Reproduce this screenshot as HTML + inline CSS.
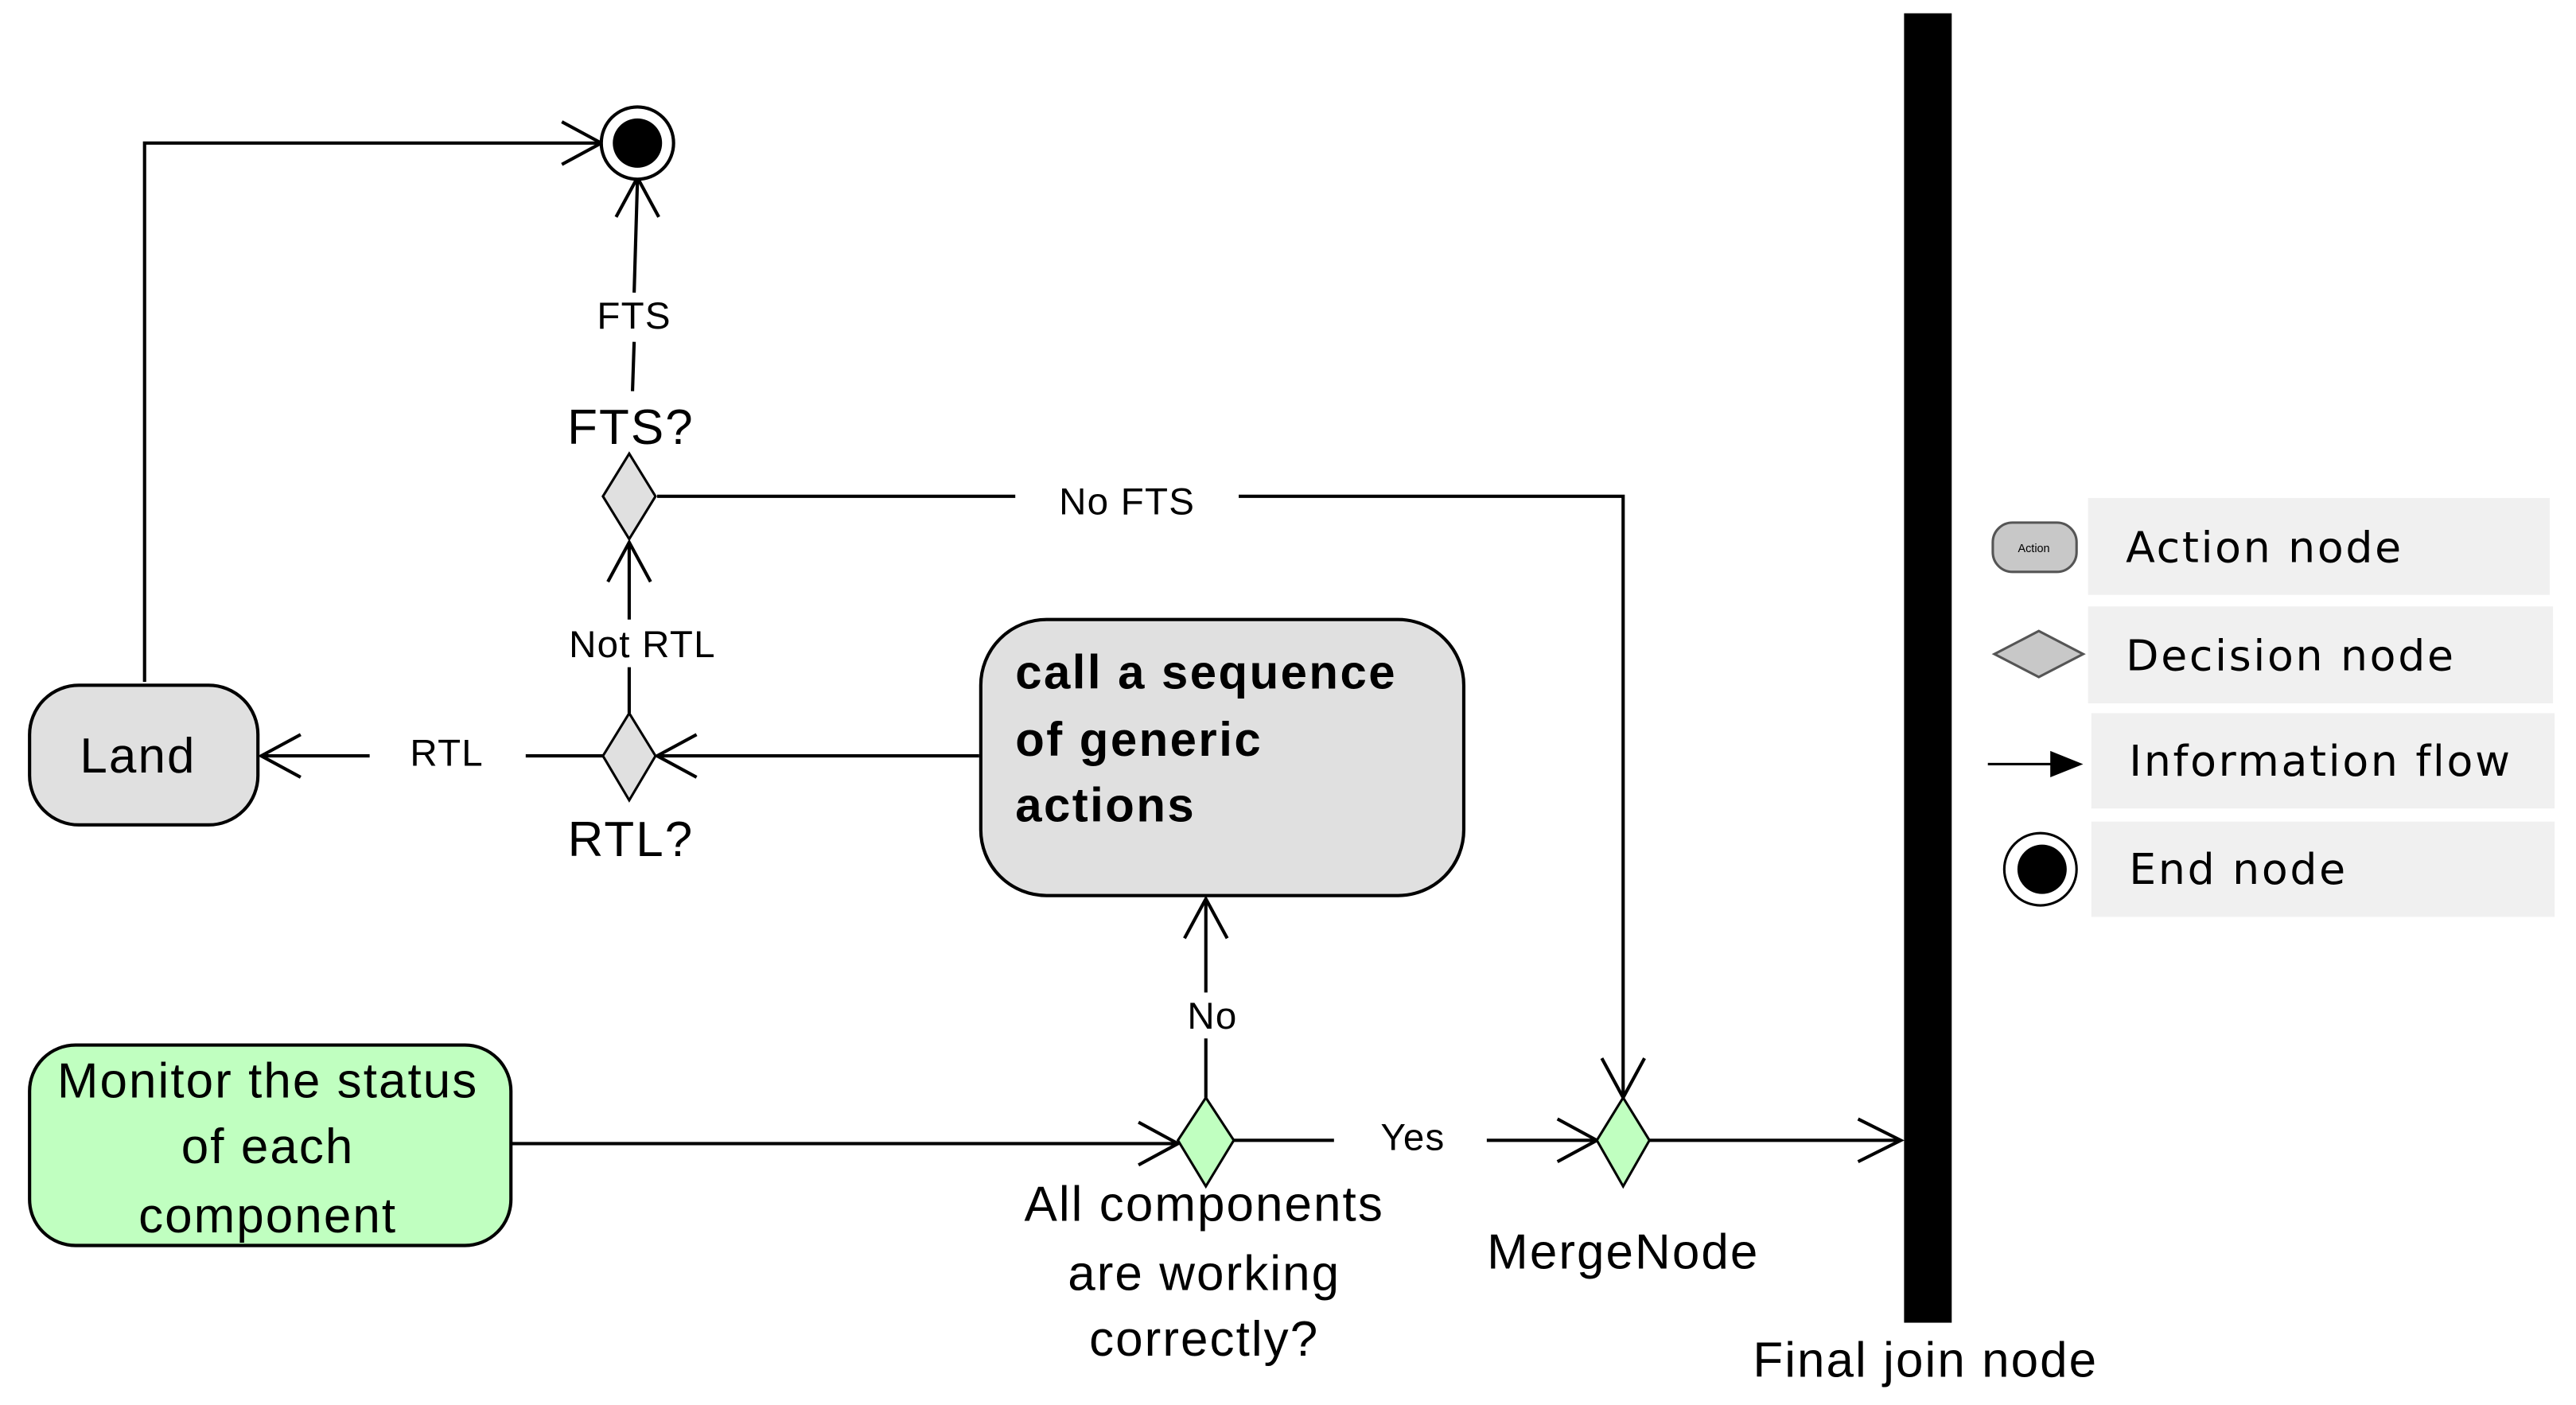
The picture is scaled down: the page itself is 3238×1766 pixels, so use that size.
<!DOCTYPE html>
<html><head><meta charset="utf-8"><style>
html,body{margin:0;padding:0;background:#fff;}
svg{display:block;}
text{font-family:"Liberation Sans",Arial,sans-serif;fill:#000;}
.big{font-size:30px;letter-spacing:1px;}
.sm{font-size:23px;letter-spacing:0.6px;}
.lg{font-family:"DejaVu Sans","Liberation Sans",sans-serif;font-size:26px;letter-spacing:1.3px;}
</style></head><body>
<svg width="3238" height="1766" viewBox="0 0 1568 855" xmlns="http://www.w3.org/2000/svg">
<g fill="none" stroke="#000" stroke-width="2">
<polyline points="88,415 88,87 366,87"/>
<polyline points="342,74 366,87 342,100"/>
<line x1="385" y1="238" x2="386" y2="208"/>
<line x1="386" y1="178" x2="388" y2="110"/>
<polyline points="375,132 388,108 401,132"/>
<line x1="400" y1="302" x2="618" y2="302"/>
<polyline points="754,302 988,302 988,668"/>
<polyline points="975,644 988,668 1001,644"/>
<line x1="383" y1="434" x2="383" y2="406"/>
<line x1="383" y1="377" x2="383" y2="330"/>
<polyline points="370,354 383,330 396,354"/>
<line x1="596" y1="460" x2="400" y2="460"/>
<polyline points="424,447 400,460 424,473"/>
<line x1="367" y1="460" x2="320" y2="460"/>
<line x1="225" y1="460" x2="159" y2="460"/>
<polyline points="183,447 159,460 183,473"/>
<line x1="734" y1="668" x2="734" y2="632"/>
<line x1="734" y1="604" x2="734" y2="547"/>
<polyline points="721,571 734,547 747,571"/>
<line x1="311" y1="696" x2="717" y2="696"/>
<polyline points="693,683 717,696 693,709"/>
<line x1="751" y1="694" x2="812" y2="694"/>
<line x1="905" y1="694" x2="972" y2="694"/>
<polyline points="948,681 972,694 948,707"/>
<line x1="1004" y1="694" x2="1157" y2="694"/>
<polyline points="1131,681 1157,694 1131,707"/>
</g>
<circle cx="388" cy="87" r="22" fill="#fff" stroke="#000" stroke-width="2"/>
<circle cx="388" cy="87" r="15" fill="#000"/>
<polygon points="383,276 399,302 383,328 367,302" fill="#e0e0e0" stroke="#000" stroke-width="1.5"/>
<polygon points="383,434 399,460 383,487 367,460" fill="#e0e0e0" stroke="#000" stroke-width="1.5"/>
<polygon points="734,668 751,694 734,722 717,694" fill="#c0ffc0" stroke="#000" stroke-width="1.5"/>
<polygon points="988,668 1004,694 988,722 972,694" fill="#c0ffc0" stroke="#000" stroke-width="1.5"/>
<rect x="18" y="417" width="139" height="85" rx="30" fill="#e0e0e0" stroke="#000" stroke-width="2"/>
<rect x="597" y="377" width="294" height="168" rx="40" fill="#e0e0e0" stroke="#000" stroke-width="2"/>
<rect x="18" y="636" width="293" height="122" rx="28" fill="#c0ffc0" stroke="#000" stroke-width="2"/>
<rect x="1159" y="8" width="29" height="797" fill="#000"/>
<text class="sm" x="386" y="200" text-anchor="middle">FTS</text>
<text class="big" x="384" y="270" text-anchor="middle">FTS?</text>
<text class="sm" x="686" y="313" text-anchor="middle">No FTS</text>
<text class="sm" x="391" y="400" text-anchor="middle">Not RTL</text>
<text class="sm" x="272" y="466" text-anchor="middle">RTL</text>
<text class="big" x="384" y="521" text-anchor="middle">RTL?</text>
<text class="big" x="84" y="470" text-anchor="middle">Land</text>
<text font-size="29" font-weight="bold" letter-spacing="1.2" x="618"><tspan x="618" y="419">call a sequence</tspan><tspan x="618" y="460">of generic</tspan><tspan x="618" y="500">actions</tspan></text>
<text class="sm" x="738" y="626" text-anchor="middle">No</text>
<text class="big" text-anchor="middle"><tspan x="163" y="668">Monitor the status</tspan><tspan x="163" y="708">of each</tspan><tspan x="163" y="750">component</tspan></text>
<text class="sm" x="860" y="700" text-anchor="middle">Yes</text>
<text class="big" text-anchor="middle"><tspan x="733" y="743">All components</tspan><tspan x="733" y="785">are working</tspan><tspan x="733" y="825">correctly?</tspan></text>
<text class="big" x="988" y="772" text-anchor="middle">MergeNode</text>
<text class="big" x="1172" y="838" text-anchor="middle">Final join node</text>
<rect x="1271" y="303" width="281" height="59" fill="#f0f0f0"/>
<rect x="1271" y="369" width="283" height="59" fill="#f0f0f0"/>
<rect x="1273" y="434" width="282" height="58" fill="#f0f0f0"/>
<rect x="1273" y="500" width="282" height="58" fill="#f0f0f0"/>
<text class="lg" x="1294" y="342">Action node</text>
<text class="lg" x="1294" y="408">Decision node</text>
<text class="lg" x="1296" y="472">Information flow</text>
<text class="lg" x="1296" y="538">End node</text>
<rect x="1213" y="318" width="51" height="30" rx="12" fill="#c8c8c8" stroke="#555" stroke-width="1.5"/>
<text x="1238" y="336" font-size="7" text-anchor="middle" fill="#333">Action</text>
<polygon points="1241,384 1268,398 1241,412 1214,398" fill="#c8c8c8" stroke="#555" stroke-width="1.5"/>
<line x1="1210" y1="465" x2="1250" y2="465" stroke="#000" stroke-width="1.5"/>
<polygon points="1248,457 1268,465 1248,473" fill="#000"/>
<circle cx="1242" cy="529" r="22" fill="#fff" stroke="#000" stroke-width="1.5"/>
<circle cx="1243" cy="529" r="15" fill="#000"/>
</svg>
</body></html>
